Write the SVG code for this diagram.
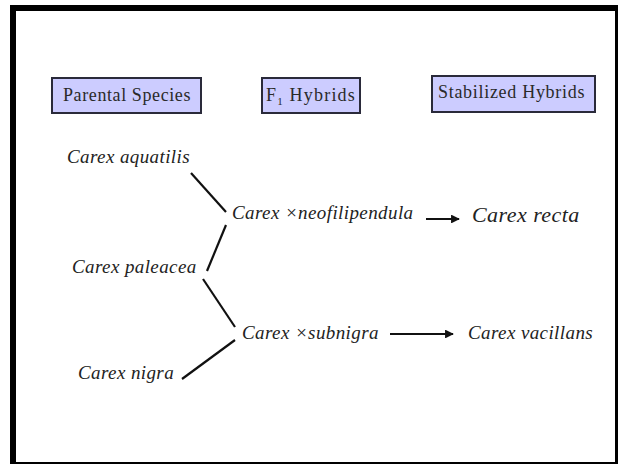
<svg xmlns="http://www.w3.org/2000/svg" width="618" height="464" viewBox="0 0 618 464">
<style>
.hdr{fill:#ccccff;stroke:#2a2a3a;stroke-width:2}
.ht{font-family:'Liberation Serif','Times New Roman',serif;font-size:18px;letter-spacing:0.6px;fill:#2a2a2a}
.sp{font-family:'Liberation Serif','Times New Roman',serif;font-style:italic;font-size:19px;letter-spacing:0.4px;fill:#222}
.big{font-size:22px;letter-spacing:0.45px}
.ln{stroke:#111;stroke-width:2.2;fill:none}
</style>
<defs>
<marker id="ah" viewBox="0 0 10 10" refX="9" refY="5" markerWidth="4" markerHeight="4" orient="auto" markerUnits="strokeWidth">
<path d="M0,0 L10,5 L0,10 z" fill="#111"/>
</marker>
</defs>
<rect width="618" height="464" fill="#fff"/>
<g id="frame" fill="#000">
<rect x="10" y="5" width="608" height="6"/>
<rect x="10" y="5" width="6" height="459"/>
<rect x="615" y="5" width="3" height="459"/>
<rect x="10" y="462" width="608" height="2"/>
</g>
<g id="hdr-parental">
<rect class="hdr" x="52" y="78" width="149" height="35"/>
<text class="ht" x="63" y="101">Parental Species</text>
</g>
<g id="hdr-f1">
<rect class="hdr" x="262" y="78" width="98" height="35"/>
<text class="ht" x="266" y="101" style="letter-spacing:1.2px">F<tspan font-size="11" dy="4">1</tspan><tspan dy="-4"> Hybrids</tspan></text>
</g>
<g id="hdr-stab">
<rect class="hdr" x="432" y="76" width="163" height="36"/>
<text class="ht" x="438" y="98" style="letter-spacing:0.7px">Stabilized Hybrids</text>
</g>
<g id="aquatilis"><text class="sp" x="67" y="163">Carex aquatilis</text></g>
<g id="paleacea"><text class="sp" x="72" y="273">Carex paleacea</text></g>
<g id="nigra"><text class="sp" x="78" y="379">Carex nigra</text></g>
<g id="neofilipendula"><text class="sp" x="232" y="219">Carex ×neofilipendula</text></g>
<g id="subnigra"><text class="sp" x="242" y="339">Carex ×subnigra</text></g>
<g id="recta"><text class="sp big" x="472" y="222">Carex recta</text></g>
<g id="vacillans"><text class="sp" x="468" y="339">Carex vacillans</text></g>
<g id="connectors">
<line class="ln" x1="191" y1="173" x2="226" y2="212"/>
<line class="ln" x1="226" y1="225" x2="207" y2="271"/>
<line class="ln" x1="203" y1="279" x2="235" y2="327"/>
<line class="ln" x1="235" y1="340" x2="182" y2="379"/>
<line class="ln" x1="426" y1="219" x2="459" y2="219" marker-end="url(#ah)"/>
<line class="ln" x1="390" y1="334" x2="453" y2="334" marker-end="url(#ah)"/>
</g>
</svg>
